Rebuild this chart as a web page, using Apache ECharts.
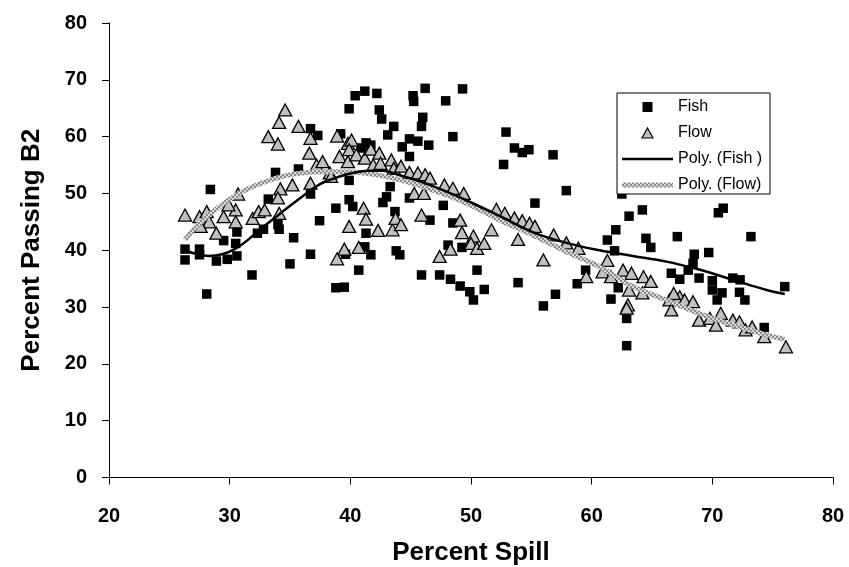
<!DOCTYPE html>
<html><head><meta charset="utf-8">
<script src="https://cdn.jsdelivr.net/npm/echarts@6/dist/echarts.min.js"></script>
<style>html,body{margin:0;padding:0;background:#fff}#c{width:849px;height:567px}</style>
</head><body><div id="c"></div>
<script>
// ---- data ----
const fishX = [26.3,26.3,27.5,27.5,28.1,28.9,29.8,30.6,30.5,29.5,30.6,31.85,32.3,32.8,34.0,34.1,35.3,35.0,36.7,37.45,38.8,39.5,38.8,28.4,33.8,35.7,36.7,37.3,33.2,36.7,39.2,39.9,39.9,39.6,40.4,41.2,42.2,42.4,42.6,43.6,43.1,45.2,45.25,46.2,47.9,49.3,46.0,45.9,48.5,52.9,53.6,54.25,54.8,52.7,44.9,45.6,46.5,44.3,41.3,41.7,44.9,40.9,39.9,40.2,43.3,43.0,42.7,43.7,44.9,47.7,46.6,41.3,41.7,41.2,40.7,43.8,44.1,48.5,49.25,48.1,50.5,45.9,47.4,48.3,49.1,49.9,50.2,51.1,53.9,55.3,56.0,56.8,57.9,57.0,59.5,58.8,61.3,62.0,63.1,64.2,61.9,62.2,61.6,62.9,62.9,64.5,64.9,67.1,69.7,68.5,68.4,68.0,66.6,67.3,68.9,70.0,70.0,70.8,70.4,71.7,72.3,72.25,72.7,70.5,70.9,73.2,74.3,76.0,62.5];
const fishY = [40.2,38.3,40.2,39.2,32.3,38.1,38.4,39.0,41.2,41.7,43.2,35.65,43.0,43.7,44.5,43.7,42.2,37.6,39.3,45.2,33.4,33.5,47.4,50.7,53.7,54.3,61.4,60.2,49.0,49.9,60.5,64.9,52.3,39.3,67.2,68.0,67.6,64.7,63.1,61.8,60.3,67.2,66.2,68.5,66.3,68.4,63.4,61.8,60.0,60.8,58.0,57.2,57.7,55.1,59.6,59.2,58.5,58.2,58.9,58.5,56.5,58.0,48.9,47.7,51.2,49.4,48.4,46.8,49.2,47.9,45.3,43.0,39.2,40.6,36.5,39.9,39.2,44.8,40.5,40.9,36.5,35.65,35.65,34.9,33.7,32.7,31.25,33.1,34.3,48.3,30.2,56.8,50.5,32.25,36.5,34.1,41.8,43.6,46.0,47.1,39.9,33.4,31.4,28.0,23.2,42.1,40.5,42.4,39.6,39.3,37.7,36.5,35.95,34.9,35.1,34.65,33.0,32.5,31.25,35.1,34.8,32.6,31.25,46.6,47.4,42.4,26.4,33.6,49.9];
const flowX = [26.3,27.5,28.1,28.3,27.6,28.9,29.5,30.5,30.5,30.7,29.9,31.9,32.4,32.9,34.1,34.2,35.2,34.0,36.7,34.6,34.1,33.2,34.0,35.7,36.7,36.6,37.2,37.7,38.9,39.1,38.3,39.8,39.8,39.9,39.5,38.9,40.1,39.9,40.5,41.2,41.7,42.4,41.9,42.5,43.4,43.6,44.2,44.9,45.6,46.2,46.6,47.8,48.5,49.4,38.4,45.3,46.1,41.1,41.3,42.3,43.5,43.75,44.2,45.9,40.7,47.4,48.3,49.1,49.25,50.2,50.0,50.5,51.1,51.7,52.1,52.8,53.6,54.25,54.85,55.3,53.9,56.0,56.85,57.9,58.9,61.3,60.9,59.55,61.6,62.6,63.3,64.3,64.9,63.1,64.2,63.0,62.9,66.45,66.6,67.3,67.7,68.4,68.9,69.8,70.3,70.7,71.7,72.25,72.75,73.3,74.3,76.1,66.8];
const flowY = [46.2,45.9,46.8,45.0,44.2,43.0,45.9,47.1,45.0,49.9,48.0,45.6,46.8,47.1,46.5,50.8,51.5,49.2,51.8,64.7,62.5,60.0,58.7,61.8,59.7,57.1,55.0,55.6,60.1,56.5,53.6,58.8,55.6,44.2,40.2,38.5,59.4,57.7,56.8,56.2,57.8,57.1,55.0,55.3,55.9,54.4,54.8,53.7,53.6,53.3,52.7,51.5,50.9,50.0,53.0,50.0,50.0,47.4,45.5,43.5,43.6,45.6,44.5,46.2,40.5,38.9,40.2,45.3,43.1,42.5,41.2,40.35,41.2,43.6,47.2,46.5,45.7,45.2,44.75,44.2,41.9,38.3,42.7,41.3,40.35,38.2,36.2,35.35,35.35,36.5,35.95,35.35,34.5,33.0,32.5,30.4,29.8,31.25,29.5,31.8,31.25,30.95,27.7,28.0,26.8,28.9,27.7,27.4,26.0,26.5,24.8,23.0,32.4];
const fishTrendX = [26.3,27.3,28.3,30.3,33.0,35.8,37.45,38.6,40.0,41.5,42.7,44.1,46.85,49.6,52.4,55.1,57.9,60.65,63.4,66.2,68.9,71.7,74.5,76.0];
const fishTrendY = [40.0,39.3,39.0,40.05,44.5,49.1,51.6,52.6,53.5,54.0,54.0,53.2,51.3,48.8,46.0,43.2,41.3,40.0,39.0,38.0,36.6,34.8,33.0,32.3];
const flowTrendX = [26.3,27.5,30.3,33.0,35.8,38.6,41.3,44.1,46.85,49.6,52.4,55.1,57.9,60.65,63.4,66.2,68.9,71.7,74.5,76.0];
const flowTrendY = [41.8,44.75,49.4,52.1,53.55,53.8,53.55,52.4,50.6,48.3,45.3,42.7,39.75,37.1,33.6,31.25,28.9,26.85,25.1,24.3];
const xTicks = {min:20, max:80, step:10};
const yTicks = {min:0, max:80, step:10};

const zip = (a,b) => a.map((v,i)=>[v,b[i]]);
const FONT = '"Liberation Sans", Arial, sans-serif';

// textured pattern for the Flow trend line
const pc = document.createElement('canvas'); pc.width = 4; pc.height = 4;
const g = pc.getContext('2d');
g.fillStyle = '#d8d8d8'; g.fillRect(0,0,4,4);
g.fillStyle = '#8c8c8c'; g.fillRect(0,0,2,2); g.fillRect(2,2,2,2);
const flowPattern = {image:pc, repeat:'repeat'};

const chart = echarts.init(document.getElementById('c'), null, {renderer:'canvas'});
const axisCommon = {
  type:'value',
  axisLine:{show:true, onZero:false, lineStyle:{color:'#000', width:1}},
  axisTick:{show:true, inside:false, length:7, lineStyle:{color:'#000', width:1}},
  splitLine:{show:false},
  axisLabel:{color:'#000', fontWeight:'bold', fontSize:20, fontFamily:FONT},
  nameLocation:'middle',
  nameTextStyle:{color:'#000', fontWeight:'bold', fontSize:26, fontFamily:FONT}
};
chart.setOption({
  animation:false,
  backgroundColor:'#fff',
  grid:{left:109, right:16, top:23, bottom:89.5, containLabel:false, outerBoundsMode:'none'},
  xAxis:Object.assign({}, axisCommon, {
    min:xTicks.min, max:xTicks.max, interval:xTicks.step,
    name:'Percent Spill', nameGap:62,
    axisLabel:Object.assign({}, axisCommon.axisLabel, {margin:29})
  }),
  yAxis:Object.assign({}, axisCommon, {
    min:yTicks.min, max:yTicks.max, interval:yTicks.step,
    name:'Percent Passing B2', nameGap:64,
    axisLabel:Object.assign({}, axisCommon.axisLabel, {margin:22})
  }),
  legend:{
    orient:'vertical', left:622, top:99, padding:0, z:20,
    itemWidth:51, itemHeight:10, itemGap:10,
    textStyle:{color:'#000', fontSize:16, fontFamily:FONT},
    data:[
      {name:'Fish', icon:'path://M0,0H10V10H0Z', itemStyle:{color:'#000', opacity:1}},
      {name:'Flow', icon:'path://M6,0L12,11H0Z', itemStyle:{color:'#c0c0c0', borderColor:'#000', borderWidth:1.2, opacity:1}},
      {name:'Poly. (Fish )', icon:'path://M0,0H51V2.5H0Z', itemStyle:{color:'#000', borderWidth:0}},
      {name:'Poly. (Flow)', icon:'path://M0,0H51V5H0Z', itemStyle:{color:flowPattern, borderWidth:0}}
    ]
  },
  graphic:[{type:'rect', z:15, shape:{x:617, y:93, width:153, height:101},
    style:{fill:'#fff', stroke:'#000', lineWidth:1}}],
  series:[
    {name:'Fish', type:'scatter', data:zip(fishX, fishY), symbol:'rect', symbolSize:9.5,
      itemStyle:{color:'#000', opacity:1}},
    {name:'Flow', type:'scatter', data:zip(flowX, flowY), symbol:'triangle', symbolSize:[13,12],
      itemStyle:{color:'#c0c0c0', borderColor:'#000', borderWidth:1.3, opacity:1}},
    {name:'Poly. (Flow)', type:'line', data:zip(flowTrendX, flowTrendY), showSymbol:false, symbol:'none', smooth:0.4,
      lineStyle:{width:5, color:flowPattern}, itemStyle:{color:'#a8a8a8'}},
    {name:'Poly. (Fish )', type:'line', data:zip(fishTrendX, fishTrendY), showSymbol:false, symbol:'none', smooth:0.4,
      lineStyle:{width:2.5, color:'#000'}, itemStyle:{color:'#000'}}
  ]
});
</script></body></html>
